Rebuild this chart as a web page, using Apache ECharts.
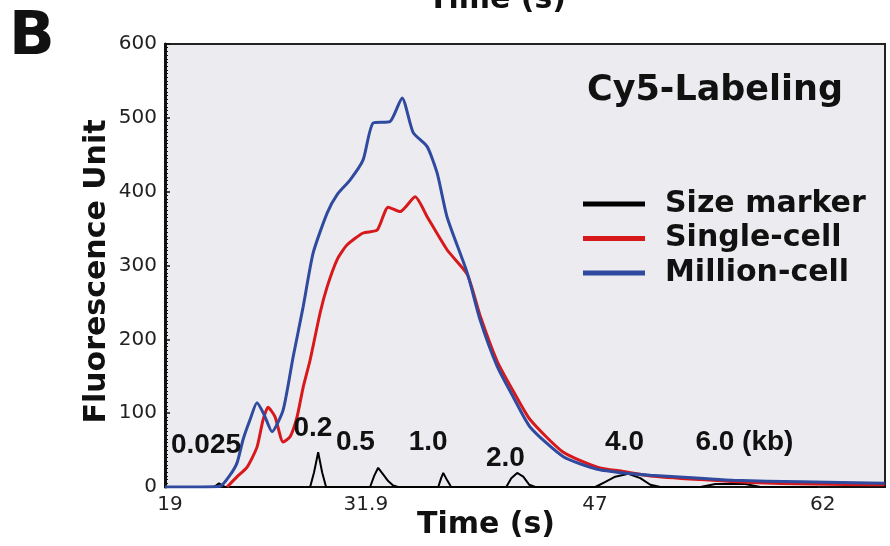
<!DOCTYPE html>
<html>
<head>
<meta charset="utf-8">
<title>Cy5-Labeling</title>
<script src="https://cdn.jsdelivr.net/npm/echarts@6/dist/echarts.min.js"></script>
<style>
html, body { margin: 0; padding: 0; background: #fff; }
#my-charts { width: 890px; height: 546px; }
</style>
</head>
<body>
<div id="my-charts"></div>
<script>
// values: time (s) and fluorescence unit
var markerTime = [20.98, 21.90, 22.23, 22.63, 28.23, 28.49, 28.76, 29.02, 29.28, 32.18, 32.45, 32.71, 33.04, 33.37, 33.70, 34.03,
	36.67, 36.86, 37.00, 37.26, 37.52, 41.15, 41.48, 41.87, 42.27, 42.67, 43.06, 47.02, 47.68, 48.33, 49.19, 49.98, 50.64, 51.30,
	53.94, 54.93, 56.90, 57.89, 61.65]
var markerValue = [0, 0, 5, 0, 0, 20, 47, 20, 0, 0, 15, 26, 17, 8, 2, 0,
	0, 12, 19, 9, 0, 0, 12, 19, 14, 3, 0, 0, 7, 14, 18, 12, 3, 0,
	0, 4, 4, 0, 0]

var singleTime = [22.76, 23.42, 24.08, 24.73, 25.13, 25.46, 25.92, 26.45, 26.91, 27.37, 27.77, 28.23, 28.89, 29.35, 30.01, 30.67,
	31.72, 32.65, 33.37, 34.16, 35.15, 35.94, 37.26, 38.58, 39.43, 40.56, 41.61, 42.73, 44.91, 47.15, 48.86, 50.64, 53.94,
	57.23, 61.19, 66.07]
var singleValue = [0, 14, 27, 54, 91, 108, 95, 61, 68, 95, 135, 172, 236, 271, 308, 328,
	344, 348, 379, 373, 393, 366, 321, 288, 232, 170, 130, 91, 47, 27, 21, 15, 10,
	6, 4, 3]

var millionTime = [18.67, 20.52, 22.30, 22.95, 23.42, 23.81, 24.27, 24.73, 25.20, 25.72, 26.45, 27.11, 27.77, 28.43, 29.35, 30.01,
	30.87, 31.72, 32.38, 33.50, 34.29, 35.02, 35.94, 36.60, 37.26, 38.58, 39.43, 40.56, 41.61, 42.73, 44.91, 47.15, 48.86,
	50.64, 53.94, 56.11, 60.53, 66.07]
var millionValue = [0, 0, 1, 16, 33, 64, 91, 114, 98, 75, 104, 176, 244, 317, 371, 396,
	416, 443, 493, 495, 527, 480, 461, 425, 365, 290, 226, 163, 122, 81, 41, 24, 19,
	16, 12, 9, 7, 5]

// fragment sizes written over the marker peaks
var sizeLabels = ['0.025', '0.2', '0.5', '1.0', '2.0', '4.0', '6.0 (kb)']
var sizeLabelTime = [21.37, 28.41, 31.21, 36.01, 41.09, 48.94, 56.84]
var sizeLabelValue = [57, 80, 61, 60, 39, 60, 60]

var xTickValues = [19, 31.9, 47, 62]

function pairs(xs, ys) {
	return xs.map(function (x, i) { return [x, ys[i]] })
}

var myChart = echarts.init(document.getElementById('my-charts'))

var boldFont = 'DejaVu Sans'

var option = {
	animation: false,
	backgroundColor: '#fff',
	grid: {
		left: 165,
		right: 5,
		top: 44,
		bottom: 59,
		outerBoundsMode: 'none',
		containLabel: false,
		show: true,
		backgroundColor: '#ececf0',
		borderColor: '#222',
		borderWidth: 2
	},
	legend: {
		data: ['Size marker', 'Single-cell', 'Million-cell'],
		orient: 'vertical',
		left: 583,
		top: 189,
		padding: 0,
		icon: 'rect',
		itemWidth: 62,
		itemHeight: 5,
		itemGap: 4.5,
		textStyle: {
			fontFamily: boldFont,
			fontWeight: 'bold',
			fontSize: 30,
			lineHeight: 30,
			color: '#111',
			padding: [0, 0, 0, 15]
		}
	},
	xAxis: {
		type: 'value',
		min: 18.67,
		max: 66.1,
		name: 'Time (s)',
		nameLocation: 'middle',
		nameGap: 23,
		nameMoveOverlap: false,
		nameTextStyle: {
			fontFamily: boldFont,
			fontWeight: 'bold',
			fontSize: 30,
			color: '#111',
			padding: [0, 78, 0, 0]
		},
		axisLine: { lineStyle: { color: '#111', width: 2 } },
		axisTick: { show: false },
		splitLine: { show: false },
		axisLabel: {
			customValues: xTickValues,
			fontFamily: 'DejaVu Sans',
			fontSize: 20,
			color: '#222',
			margin: 8
		}
	},
	yAxis: {
		type: 'value',
		min: 0,
		max: 600,
		interval: 100,
		name: 'Fluorescence Unit',
		nameLocation: 'middle',
		nameGap: 53,
		nameMoveOverlap: false,
		nameTextStyle: {
			fontFamily: boldFont,
			fontWeight: 'bold',
			fontSize: 30,
			color: '#111',
			padding: [0, 12, 0, 0]
		},
		axisLine: { show: true, lineStyle: { color: '#111', width: 3 } },
		axisTick: { show: true, inside: true, length: 5, lineStyle: { color: '#111', width: 1.5 } },
		minorTick: { show: true, splitNumber: 20, length: 3, lineStyle: { color: '#111', width: 1 } },
		splitLine: { show: false },
		axisLabel: {
			fontFamily: 'DejaVu Sans',
			fontSize: 20,
			color: '#222',
			margin: 8
		}
	},
	graphic: [
		{
			type: 'text', left: 9, top: 8,
			style: { text: 'B', font: 'bold 60px "DejaVu Sans"', fill: '#111' }
		},
		{
			type: 'text', x: 428, y: 0,
			style: { text: 'Time (s)', font: 'bold 30px "DejaVu Sans"', fill: '#111', textVerticalAlign: 'middle' }
		},
		{
			type: 'text', x: 587, y: 91,
			style: { text: 'Cy5-Labeling', font: 'bold 35px "DejaVu Sans"', fill: '#111', textVerticalAlign: 'middle' }
		}
	],
	series: [
		{
			name: 'Size marker',
			type: 'line',
			data: pairs(markerTime, markerValue),
			showSymbol: false,
			silent: true,
			itemStyle: { color: '#000' },
			lineStyle: { color: '#000', width: 2 }
		},
		{
			name: 'Single-cell',
			type: 'line',
			data: pairs(singleTime, singleValue),
			showSymbol: false,
			silent: true,
			smooth: 0.2,
			itemStyle: { color: '#d7191c' },
			lineStyle: { color: '#d7191c', width: 3 }
		},
		{
			name: 'Million-cell',
			type: 'line',
			data: pairs(millionTime, millionValue),
			showSymbol: false,
			silent: true,
			smooth: 0.2,
			itemStyle: { color: '#2f4a9e' },
			lineStyle: { color: '#2f4a9e', width: 3 }
		},
		{
			name: 'sizes',
			type: 'scatter',
			silent: true,
			symbolSize: 0,
			itemStyle: { color: '#111', opacity: 1 },
			data: sizeLabelTime.map(function (t, i) { return [t, sizeLabelValue[i], sizeLabels[i]] }),
			label: {
				show: true,
				position: 'inside',
				formatter: function (p) { return p.value[2] },
				fontFamily: 'Liberation Sans',
				fontWeight: 'bold',
				fontSize: 28,
				color: '#111',
				opacity: 1
			},
			z: 5
		}
	]
}

myChart.setOption(option)
</script>
</body>
</html>
